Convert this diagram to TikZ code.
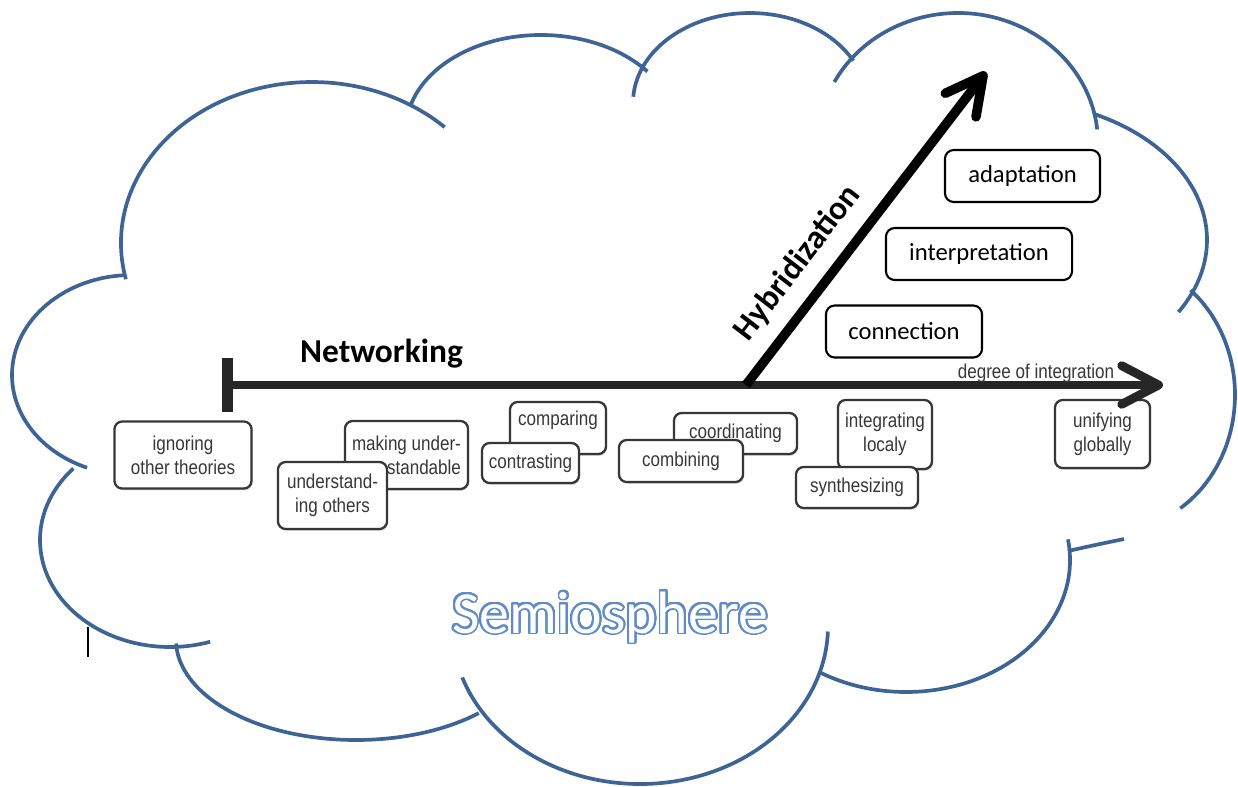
\documentclass[tikz,border=0pt]{standalone}
\usepackage{fontspec}
\setmainfont{Carlito}
\newfontfamily\scanfont[FakeStretch=0.85]{Liberation Sans}
\usepackage[copies]{contour}
\usetikzlibrary{arrows.meta, shadows}

\definecolor{cloudblue}{RGB}{62,100,150}
\definecolor{semiblue}{RGB}{95,140,200}
\definecolor{scangray}{RGB}{55,55,55}
\contourlength{0.55pt}
\contournumber{32}

\begin{document}
\begin{tikzpicture}[
    x = 0.01cm, y = -0.01cm,
    cloudline/.style = {draw=cloudblue, line width=1.05pt},
    scanbox/.style = {rectangle, rounded corners=2.2pt, draw=scangray, line width=0.65pt, fill=white, text=scangray, align=center, inner sep=1pt, font=\scanfont\fontsize{5.7}{6.8}\selectfont, drop shadow={shadow xshift=0.3pt, shadow yshift=-0.5pt, opacity=0.3}},
    stepbox/.style = {rectangle, rounded corners=2.5pt, draw=black, line width=0.6pt, fill=white, font=\fontsize{7}{8.4}\selectfont, minimum height=0.52cm},
    axisline/.style = {draw=black!85, line width=2.5pt},
    hybline/.style = {draw=black, line width=2.7pt}
]
\fill[white] (0,0) rectangle (1238,787);
\useasboundingbox (0,0) rectangle (1238,787);

% Cloud outline
\draw[cloudline] (132,375) ++(267:120 and 100) arc[start angle=267, end angle=112, x radius=120, y radius=100];
\draw[cloudline] (312,243) ++(167:191 and 161) arc[start angle=167, end angle=314, x radius=191, y radius=161];
\draw[cloudline] (541,130) ++(196:135 and 95) arc[start angle=196, end angle=322, x radius=135, y radius=95];
\draw[cloudline] (750,103) ++(184:117 and 90) arc[start angle=184, end angle=332, x radius=117, y radius=90];
\draw[cloudline] (958,143) ++(208:140 and 130) arc[start angle=208, end angle=354, x radius=140, y radius=130];
\draw[cloudline] (1007,240) ++(296:200 and 140) arc[start angle=296, end angle=391, x radius=200, y radius=140];
\draw[cloudline] (1115,395) ++(-51:120 and 135) arc[start angle=-51, end angle=57, x radius=120, y radius=135];
\draw[cloudline] (906,560) ++(-9:164 and 132) arc[start angle=-9, end angle=122, x radius=164, y radius=132];
\draw[cloudline] (1068,551) .. controls (1095,545) .. (1124,539);
\draw[cloudline] (640,626) ++(2:188 and 158) arc[start angle=2, end angle=161, x radius=188, y radius=158];
\draw[cloudline] (356,640) ++(47:180 and 100) arc[start angle=47, end angle=178, x radius=180, y radius=100];
\draw[cloudline] (170,540) ++(222:130 and 107) arc[start angle=222, end angle=72, x radius=130, y radius=107];
\draw[line width=0.3pt] (88,627) -- (88,657);

% Define nodes
\node[scanbox, minimum width=1.37cm, minimum height=0.67cm] (ignoring) at (183,455) {ignoring\\other theories};
\node[scanbox, minimum width=1.23cm, minimum height=0.68cm, align=right] (making) at (406.5,455) {making under-\\standable};
\node[scanbox, minimum width=1.09cm, minimum height=0.67cm] (understanding) at (332.5,495.5) {understand-\\ing others};
\node[scanbox, minimum width=0.96cm, text height=0.2cm, text depth=0.25cm] (comparing) at (558,428) {comparing};
\node[scanbox, minimum width=0.97cm, minimum height=0.40cm] (contrasting) at (530.5,463) {contrasting};
\node[scanbox, minimum width=1.23cm, minimum height=0.41cm] (coordinating) at (735.5,433.5) {coordinating};
\node[scanbox, minimum width=1.24cm, minimum height=0.42cm] (combining) at (681,461) {combining};
\node[scanbox, minimum width=0.94cm, minimum height=0.69cm] (integrating) at (885,434.5) {integrating\\localy};
\node[scanbox, minimum width=1.22cm, minimum height=0.41cm] (synthesizing) at (857,487.5) {synthesizing};
\node[scanbox, minimum width=0.95cm, minimum height=0.68cm] (unifying) at (1102.5,434) {unifying\\globally};

\node[stepbox, minimum width=1.56cm] (connection) at (904,331.5) {connection};
\node[stepbox, minimum width=1.86cm] (interpretation) at (979,254) {interpretation};
\node[stepbox, minimum width=1.55cm] (adaptation) at (1022.5,176) {adaptation};

\coordinate (netstart) at (222,385);
\coordinate (nettip) at (1163,385);
\coordinate (hybstart) at (746,385);
\coordinate (hybtip) at (986,72);

% Draw arrows
\draw[axisline, {Bar[width=15.4pt, line width=3.1pt]}-{Straight Barb[length=10.5pt, width=11pt, round]}] (netstart) -- (nettip);
\draw[hybline, -{Straight Barb[length=10.5pt, width=11pt, round]}] (hybstart) -- (hybtip);

% Labels
\node[font=\bfseries\fontsize{9.5}{11}\selectfont, anchor=base] (networking) at (381.5,362) {Networking};
\node[font=\bfseries\fontsize{9.5}{11}\selectfont, rotate=52.5] (hybridization) at (798,263) {Hybridization};
\node[font=\scanfont\fontsize{5.7}{6.8}\selectfont, text=scangray, anchor=base, inner sep=0pt] (degree) at (1036,378) {degree of integration};
\node[font=\fontsize{17}{20}\selectfont, text=white, anchor=base] (semiosphere) at (610,633) {\contour{semiblue}{Semiosphere}};

\end{tikzpicture}
\end{document}
